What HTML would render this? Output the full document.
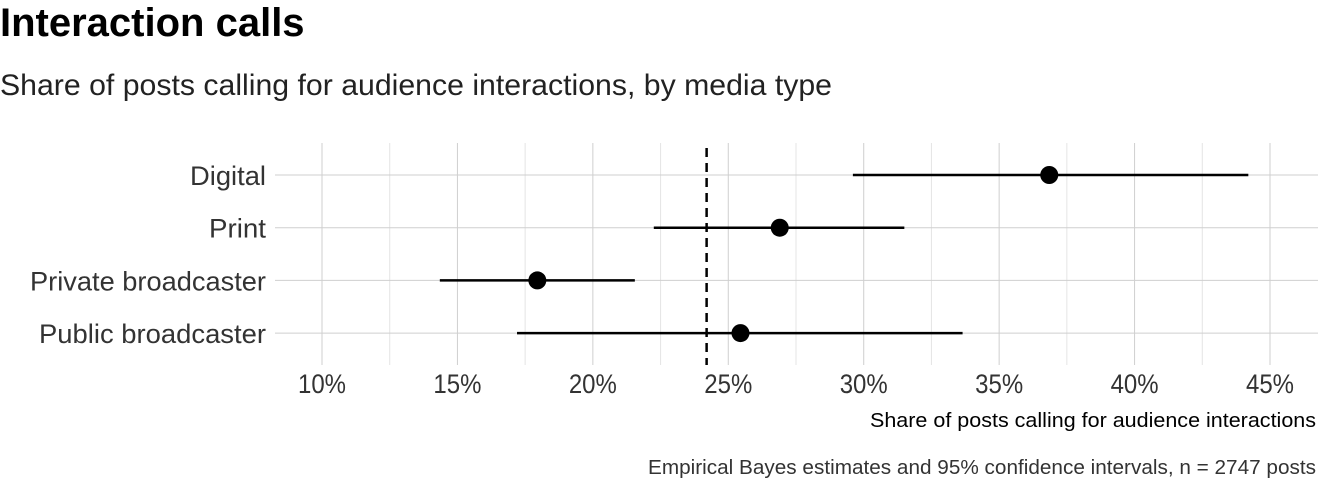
<!DOCTYPE html>
<html><head><meta charset="utf-8"><style>
body{margin:0;background:#fff;width:1344px;height:480px;overflow:hidden;font-family:"Liberation Sans Narrow","Liberation Sans",sans-serif}
svg text{font-family:"Liberation Sans Narrow","Liberation Sans",sans-serif}
</style></head><body>
<svg id="chart" width="1344" height="480" xmlns="http://www.w3.org/2000/svg">
<text x="0" y="36" font-size="40" font-weight="bold" fill="#000">Interaction calls</text>
<text x="0" y="95" font-size="30" fill="#222" textLength="832" lengthAdjust="spacingAndGlyphs">Share of posts calling for audience interactions, by media type</text>
<g id="grid"></g>
<g id="marks"></g>
<text x="1316" y="427" font-size="20" text-anchor="end" fill="#000" textLength="446" lengthAdjust="spacingAndGlyphs">Share of posts calling for audience interactions</text>
<text x="1316" y="474" font-size="20" text-anchor="end" fill="#333" textLength="668" lengthAdjust="spacingAndGlyphs">Empirical Bayes estimates and 95% confidence intervals, n = 2747 posts</text>
</svg>
<script>
const categories=["Digital","Print","Private broadcaster","Public broadcaster"];
const estimates=[36.85,26.9,17.95,25.45];
const lower=[29.6,22.25,14.35,17.2];
const upper=[44.2,31.5,21.55,33.65];
const refLine=24.2;
const ticks=[10,15,20,25,30,35,40,45];
const tickLabels=["10%","15%","20%","25%","30%","35%","40%","45%"];
const NS="http://www.w3.org/2000/svg";
const xs=v=>322+(v-10)*(1270-322)/35;
const ys=i=>175+i*52.7;
const pTop=143,pBot=365,pLeft=275,pRight=1318;
function mk(tag,attrs,parent){const e=document.createElementNS(NS,tag);for(const k in attrs)e.setAttribute(k,attrs[k]);parent.appendChild(e);return e;}
const g=document.getElementById('grid'),m=document.getElementById('marks');
for(let t=7.5;t<=47.5;t+=2.5){const xx=xs(t);if(xx<pLeft||xx>pRight)continue;
 const l=mk('line',{x1:xx,x2:xx,y1:pTop,y2:pBot,stroke:t%5===0?'#cfcfcf':'#e4e4e4','stroke-width':1},g);
 
 }
const labelWidths={"Digital":76,"Print":57,"Private broadcaster":236,"Public broadcaster":227};
categories.forEach((c,i)=>{
 const l=mk('line',{x1:pLeft,x2:pRight,y1:ys(i),y2:ys(i),stroke:'#cfcfcf','stroke-width':1},g);
 
 
 const t=mk('text',{x:266,y:ys(i)+10,'font-size':27,'text-anchor':'end',fill:'#333'},g);t.textContent=c;
 if(labelWidths[c]){t.setAttribute('textLength',labelWidths[c]);t.setAttribute('lengthAdjust','spacingAndGlyphs');}
 
 
});
ticks.forEach((v,i)=>{const t=mk('text',{x:xs(v),y:393,'font-size':27,'text-anchor':'middle',fill:'#333',textLength:48,lengthAdjust:'spacingAndGlyphs'},g);t.textContent=tickLabels[i];
 
 });
const rl=mk('line',{x1:xs(refLine),x2:xs(refLine),y1:pTop+5,y2:pBot,stroke:'#000','stroke-width':2.5,'stroke-dasharray':'9,6'},m);


categories.forEach((c,i)=>{
 const l=mk('line',{x1:xs(lower[i]),x2:xs(upper[i]),y1:ys(i),y2:ys(i),stroke:'#000','stroke-width':2.5},m);
 
 
 const p=mk('circle',{cx:xs(estimates[i]),cy:ys(i),r:9,fill:'#000'},m);
 
 
});
</script>
</body></html>
